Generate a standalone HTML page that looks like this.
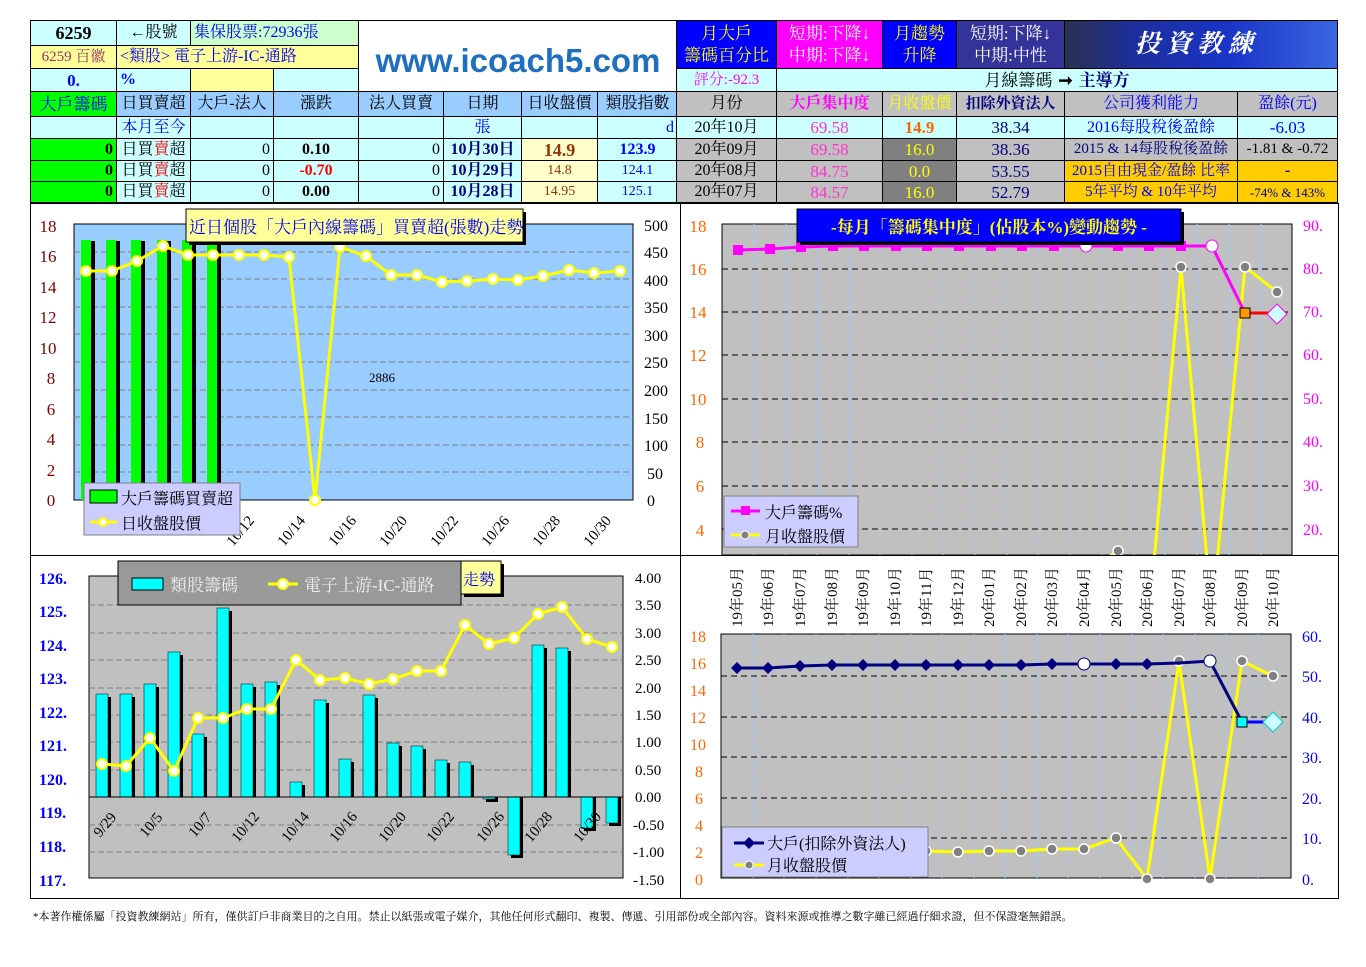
<!DOCTYPE html>
<html><head><meta charset="utf-8">
<style>
body{margin:0;width:1366px;height:967px;background:#fff;position:relative;overflow:hidden;font-family:"Liberation Serif","Noto Serif CJK SC",serif;}
.c{position:absolute;box-sizing:border-box;border:1px solid #000;display:flex;align-items:center;justify-content:center;overflow:hidden;white-space:nowrap;font-size:16px;line-height:1;}
.r{justify-content:flex-end;padding-right:3px}
.l{justify-content:flex-start;padding-left:3px}
.cy{background:#ccffff}.yl{background:#ffff99}.lb{background:#99ccff}.gr{background:#c0c0c0}.gn{background:#00ff00}.or{background:#ffcc00}.dg{background:#808080}
svg{position:absolute;left:0;top:0}
</style></head><body>
<svg width="1366" height="967" xmlns="http://www.w3.org/2000/svg" font-family="Liberation Serif, Noto Serif CJK SC, serif">
<defs>
<clipPath id="c2"><rect x="722" y="224" width="570" height="331"/></clipPath>
</defs>
<!-- chart boxes -->
<rect x="30.5" y="203.5" width="650" height="352" fill="#fff" stroke="#000"/>
<rect x="680.5" y="203.5" width="658" height="352" fill="#fff" stroke="#000"/>
<rect x="30.5" y="555.5" width="650" height="343" fill="#fff" stroke="#000"/>
<rect x="680.5" y="555.5" width="658" height="343" fill="#fff" stroke="#000"/>

<!-- CHART 1 -->
<rect x="74" y="224" width="559" height="276" fill="#99ccff" stroke="#000"/>
<g stroke="#808080" stroke-dasharray="6,3">
<line x1="74" y1="252" x2="633" y2="252"/><line x1="74" y1="279" x2="633" y2="279"/><line x1="74" y1="307" x2="633" y2="307"/><line x1="74" y1="334" x2="633" y2="334"/><line x1="74" y1="362" x2="633" y2="362"/><line x1="74" y1="390" x2="633" y2="390"/><line x1="74" y1="417" x2="633" y2="417"/><line x1="74" y1="445" x2="633" y2="445"/><line x1="74" y1="472" x2="633" y2="472"/>
</g>
<g fill="#000"><rect x="84" y="241" width="11" height="259"/><rect x="109" y="241" width="11" height="259"/><rect x="134" y="241" width="11" height="259"/><rect x="160" y="241" width="11" height="259"/><rect x="185" y="241" width="11" height="259"/><rect x="210" y="241" width="11" height="259"/></g>
<g fill="#00ff00"><rect x="81" y="240" width="10" height="260"/><rect x="106" y="240" width="10" height="260"/><rect x="131" y="240" width="10" height="260"/><rect x="157" y="240" width="10" height="260"/><rect x="182" y="240" width="10" height="260"/><rect x="207" y="240" width="10" height="260"/></g>
<polyline fill="none" stroke="#ffff00" stroke-width="3" points="86,271 112,271 137,261 163,246 188,255 213,255 239,255 264,255 289,257 315,500 340,247 366,256 391,275 417,275 442,282 467,281 493,279 518,280 543,276 569,270 594,273 620,271"/>
<g fill="#fff" stroke="#ffff00" stroke-width="2">
<circle cx="86" cy="271" r="5"/><circle cx="112" cy="271" r="5"/><circle cx="137" cy="261" r="5"/><circle cx="163" cy="246" r="5"/><circle cx="188" cy="255" r="5"/><circle cx="213" cy="255" r="5"/><circle cx="239" cy="255" r="5"/><circle cx="264" cy="255" r="5"/><circle cx="289" cy="257" r="5"/><circle cx="315" cy="500" r="5"/><circle cx="340" cy="247" r="5"/><circle cx="366" cy="256" r="5"/><circle cx="391" cy="275" r="5"/><circle cx="417" cy="275" r="5"/><circle cx="442" cy="282" r="5"/><circle cx="467" cy="281" r="5"/><circle cx="493" cy="279" r="5"/><circle cx="518" cy="280" r="5"/><circle cx="543" cy="276" r="5"/><circle cx="569" cy="270" r="5"/><circle cx="594" cy="273" r="5"/><circle cx="620" cy="271" r="5"/>
</g>
<text x="369" y="382" font-size="13" fill="#000">2886</text>
<g fill="#800000" font-size="17" text-anchor="middle">
<text x="48" y="232">18</text><text x="48" y="262">16</text><text x="48" y="293">14</text><text x="48" y="323">12</text><text x="48" y="354">10</text><text x="51" y="384">8</text><text x="51" y="415">6</text><text x="51" y="445">4</text><text x="51" y="476">2</text><text x="51" y="506">0</text>
</g>
<g fill="#000" font-size="16">
<text x="644" y="231">500</text><text x="644" y="258">450</text><text x="644" y="286">400</text><text x="644" y="313">350</text><text x="644" y="341">300</text><text x="644" y="368">250</text><text x="644" y="396">200</text><text x="644" y="424">150</text><text x="644" y="451">100</text><text x="647" y="479">50</text><text x="647" y="506">0</text>
</g>
<g fill="#000" font-size="15">
<text transform="translate(233,547) rotate(-50)">10/12</text><text transform="translate(284,547) rotate(-50)">10/14</text><text transform="translate(335,547) rotate(-50)">10/16</text><text transform="translate(386,547) rotate(-50)">10/20</text><text transform="translate(437,547) rotate(-50)">10/22</text><text transform="translate(488,547) rotate(-50)">10/26</text><text transform="translate(539,547) rotate(-50)">10/28</text><text transform="translate(590,547) rotate(-50)">10/30</text>
</g>
<rect x="189" y="212" width="337" height="33" fill="#000"/>
<rect x="186" y="209" width="337" height="33" fill="#ffff99" stroke="#000"/>
<text x="189" y="233" font-size="17" fill="#0000ff">近日個股「大戶內線籌碼」買賣超(張數)走勢</text>
<rect x="84" y="483" width="156" height="52" fill="#ccccff" stroke="#808080"/>
<rect x="90" y="490" width="27" height="13" fill="#00ff00" stroke="#000"/>
<text x="121" y="504" font-size="16" fill="#000">大戶籌碼買賣超</text>
<line x1="90" y1="522" x2="117" y2="522" stroke="#ffff00" stroke-width="3"/><circle cx="103" cy="522" r="4" fill="#fff" stroke="#ffff00" stroke-width="2"/>
<text x="121" y="529" font-size="16" fill="#000">日收盤股價</text>

<!-- CHART 2 -->
<rect x="722" y="224" width="570" height="331" fill="#c0c0c0" stroke="#000"/>
<g stroke="#99ccff" stroke-dasharray="5,3">
<line x1="754" y1="224" x2="754" y2="555"/><line x1="786" y1="224" x2="786" y2="555"/><line x1="817" y1="224" x2="817" y2="555"/><line x1="849" y1="224" x2="849" y2="555"/><line x1="880" y1="224" x2="880" y2="555"/><line x1="912" y1="224" x2="912" y2="555"/><line x1="943" y1="224" x2="943" y2="555"/><line x1="975" y1="224" x2="975" y2="555"/><line x1="1007" y1="224" x2="1007" y2="555"/><line x1="1038" y1="224" x2="1038" y2="555"/><line x1="1070" y1="224" x2="1070" y2="555"/><line x1="1102" y1="224" x2="1102" y2="555"/><line x1="1134" y1="224" x2="1134" y2="555"/><line x1="1165" y1="224" x2="1165" y2="555"/><line x1="1197" y1="224" x2="1197" y2="555"/><line x1="1229" y1="224" x2="1229" y2="555"/><line x1="1261" y1="224" x2="1261" y2="555"/>
</g>
<g stroke="#000" stroke-dasharray="6,4">
<line x1="722" y1="269" x2="1292" y2="269"/><line x1="722" y1="312" x2="1292" y2="312"/><line x1="722" y1="355" x2="1292" y2="355"/><line x1="722" y1="399" x2="1292" y2="399"/><line x1="722" y1="442" x2="1292" y2="442"/><line x1="722" y1="486" x2="1292" y2="486"/><line x1="722" y1="529" x2="1292" y2="529"/>
</g>
<g clip-path="url(#c2)">
<polyline fill="none" stroke="#ffff00" stroke-width="3" points="1086,572 1118,551 1149,616 1181,267 1212,616 1245,267 1277,292"/>
<g fill="#808080" stroke="#fff" stroke-width="1.5"><circle cx="1118" cy="551" r="5"/><circle cx="1181" cy="267" r="5"/><circle cx="1245" cy="267" r="5"/><circle cx="1277" cy="292" r="5"/></g>
</g>
<polyline fill="none" stroke="#ff00ff" stroke-width="3" points="738,250 770,249 801,247 833,246 864,246 896,246 927,246 959,246 991,246 1022,246 1054,246 1086,246 1118,246 1149,246 1181,246 1212,246 1245,313"/>
<line x1="1245" y1="313" x2="1277" y2="313" stroke="#ff0000" stroke-width="3"/>
<g fill="#ff00ff"><rect x="733" y="245" width="10" height="10"/><rect x="765" y="244" width="10" height="10"/><rect x="796" y="242" width="10" height="10"/><rect x="828" y="241" width="10" height="10"/><rect x="859" y="241" width="10" height="10"/><rect x="891" y="241" width="10" height="10"/><rect x="922" y="241" width="10" height="10"/><rect x="954" y="241" width="10" height="10"/><rect x="986" y="241" width="10" height="10"/><rect x="1017" y="241" width="10" height="10"/><rect x="1049" y="241" width="10" height="10"/><rect x="1113" y="241" width="10" height="10"/><rect x="1144" y="241" width="10" height="10"/><rect x="1176" y="241" width="10" height="10"/></g>
<circle cx="1086" cy="246" r="6" fill="#fff" stroke="#ff00ff"/><circle cx="1212" cy="246" r="6" fill="#fff" stroke="#ff00ff"/>
<rect x="1240" y="308" width="10" height="10" fill="#ff9900" stroke="#000"/>
<polygon points="1277,304 1287,314 1277,324 1267,314" fill="#ccffff" stroke="#ff00ff"/>
<g fill="#ff6600" font-size="17" text-anchor="middle">
<text x="698" y="232">18</text><text x="698" y="275">16</text><text x="698" y="318">14</text><text x="698" y="361">12</text><text x="698" y="405">10</text><text x="700" y="448">8</text><text x="700" y="492">6</text><text x="700" y="536">4</text>
</g>
<g fill="#ff00ff" font-size="16">
<text x="1303" y="231">90.</text><text x="1303" y="274">80.</text><text x="1303" y="317">70.</text><text x="1303" y="360">60.</text><text x="1303" y="404">50.</text><text x="1303" y="447">40.</text><text x="1303" y="491">30.</text><text x="1303" y="535">20.</text>
</g>
<rect x="800" y="212" width="384" height="33" fill="#000"/>
<rect x="797" y="209" width="384" height="33" fill="#0000ff" stroke="#000"/>
<text x="989" y="233" font-size="17" font-weight="bold" fill="#ffff00" text-anchor="middle">-每月「籌碼集中度」(佔股本%)變動趨勢 -</text>
<rect x="724" y="496" width="134" height="51" fill="#ccccff" stroke="#808080"/>
<line x1="731" y1="511" x2="760" y2="511" stroke="#ff00ff" stroke-width="3"/><rect x="741" y="506" width="9" height="9" fill="#ff00ff"/>
<text x="765" y="518" font-size="16" fill="#000">大戶籌碼%</text>
<line x1="731" y1="535" x2="760" y2="535" stroke="#ffff00" stroke-width="3"/><circle cx="745" cy="535" r="4" fill="#808080" stroke="#fff"/>
<text x="765" y="542" font-size="16" fill="#000">月收盤股價</text>

<!-- CHART 3 -->
<rect x="89" y="576" width="534" height="302" fill="#c0c0c0" stroke="#000"/>
<g stroke="#808080" stroke-dasharray="6,3">
<line x1="89" y1="605" x2="623" y2="605"/><line x1="89" y1="633" x2="623" y2="633"/><line x1="89" y1="660" x2="623" y2="660"/><line x1="89" y1="688" x2="623" y2="688"/><line x1="89" y1="715" x2="623" y2="715"/><line x1="89" y1="742" x2="623" y2="742"/><line x1="89" y1="770" x2="623" y2="770"/><line x1="89" y1="825" x2="623" y2="825"/><line x1="89" y1="852" x2="623" y2="852"/>
</g>
<g fill="#000">
<rect x="99" y="697" width="12" height="100"/><rect x="123" y="697" width="12" height="100"/><rect x="147" y="687" width="12" height="110"/><rect x="171" y="655" width="12" height="142"/><rect x="195" y="737" width="12" height="60"/><rect x="220" y="611" width="12" height="186"/><rect x="244" y="687" width="12" height="110"/><rect x="268" y="685" width="12" height="112"/><rect x="293" y="785" width="12" height="12"/><rect x="317" y="703" width="12" height="94"/><rect x="342" y="762" width="12" height="35"/><rect x="366" y="698" width="12" height="99"/><rect x="390" y="746" width="12" height="51"/><rect x="414" y="749" width="12" height="48"/><rect x="438" y="763" width="12" height="34"/><rect x="462" y="765" width="12" height="32"/><rect x="486" y="797" width="12" height="5"/><rect x="511" y="797" width="12" height="61"/><rect x="535" y="648" width="12" height="149"/><rect x="559" y="651" width="12" height="146"/><rect x="584" y="797" width="12" height="34"/><rect x="609" y="797" width="12" height="29"/>
</g>
<g fill="#00ffff" stroke="#000" stroke-width="0.5">
<rect x="96" y="694" width="12" height="103"/><rect x="120" y="694" width="12" height="103"/><rect x="144" y="684" width="12" height="113"/><rect x="168" y="652" width="12" height="145"/><rect x="192" y="734" width="12" height="63"/><rect x="217" y="608" width="12" height="189"/><rect x="241" y="684" width="12" height="113"/><rect x="265" y="682" width="12" height="115"/><rect x="290" y="782" width="12" height="15"/><rect x="314" y="700" width="12" height="97"/><rect x="339" y="759" width="12" height="38"/><rect x="363" y="695" width="12" height="102"/><rect x="387" y="743" width="12" height="54"/><rect x="411" y="746" width="12" height="51"/><rect x="435" y="760" width="12" height="37"/><rect x="459" y="762" width="12" height="35"/><rect x="483" y="797" width="12" height="2"/><rect x="508" y="797" width="12" height="58"/><rect x="532" y="645" width="12" height="152"/><rect x="556" y="648" width="12" height="149"/><rect x="581" y="797" width="12" height="31"/><rect x="606" y="797" width="12" height="26"/>
</g>
<line x1="89" y1="797" x2="623" y2="797" stroke="#000"/>
<polyline fill="none" stroke="#ffff00" stroke-width="3" points="102,764 126,766 150,738 174,771 198,718 223,718 247,709 271,709 296,660 320,680 345,678 369,684 393,679 417,671 441,671 465,625 489,644 514,638 538,614 562,607 587,639 612,647"/>
<g fill="#fff" stroke="#ffff00" stroke-width="2">
<circle cx="102" cy="764" r="5"/><circle cx="126" cy="766" r="5"/><circle cx="150" cy="738" r="5"/><circle cx="174" cy="771" r="5"/><circle cx="198" cy="718" r="5"/><circle cx="223" cy="718" r="5"/><circle cx="247" cy="709" r="5"/><circle cx="271" cy="709" r="5"/><circle cx="296" cy="660" r="5"/><circle cx="320" cy="680" r="5"/><circle cx="345" cy="678" r="5"/><circle cx="369" cy="684" r="5"/><circle cx="393" cy="679" r="5"/><circle cx="417" cy="671" r="5"/><circle cx="441" cy="671" r="5"/><circle cx="465" cy="625" r="5"/><circle cx="489" cy="644" r="5"/><circle cx="514" cy="638" r="5"/><circle cx="538" cy="614" r="5"/><circle cx="562" cy="607" r="5"/><circle cx="587" cy="639" r="5"/><circle cx="612" cy="647" r="5"/>
</g>
<g fill="#000" font-size="15">
<text transform="translate(100,838) rotate(-50)">9/29</text><text transform="translate(146,838) rotate(-50)">10/5</text><text transform="translate(195,838) rotate(-50)">10/7</text><text transform="translate(238,843) rotate(-50)">10/12</text><text transform="translate(288,843) rotate(-50)">10/14</text><text transform="translate(336,843) rotate(-50)">10/16</text><text transform="translate(385,843) rotate(-50)">10/20</text><text transform="translate(433,843) rotate(-50)">10/22</text><text transform="translate(483,843) rotate(-50)">10/26</text><text transform="translate(531,843) rotate(-50)">10/28</text><text transform="translate(580,843) rotate(-50)">10/30</text>
</g>
<g fill="#0000ff" font-size="16" font-weight="bold">
<text x="39" y="584">126.</text><text x="39" y="617">125.</text><text x="39" y="651">124.</text><text x="39" y="684">123.</text><text x="39" y="718">122.</text><text x="39" y="751">121.</text><text x="39" y="785">120.</text><text x="39" y="818">119.</text><text x="39" y="852">118.</text><text x="39" y="886">117.</text>
</g>
<g fill="#000" font-size="15">
<text x="635" y="583">4.00</text><text x="635" y="610">3.50</text><text x="635" y="638">3.00</text><text x="635" y="665">2.50</text><text x="635" y="693">2.00</text><text x="635" y="720">1.50</text><text x="635" y="747">1.00</text><text x="635" y="775">0.50</text><text x="635" y="802">0.00</text><text x="633" y="830">-0.50</text><text x="633" y="857">-1.00</text><text x="633" y="885">-1.50</text>
</g>
<rect x="464" y="564" width="40" height="33" fill="#000"/>
<rect x="461" y="561" width="40" height="33" fill="#ffff99" stroke="#000"/>
<text x="463" y="585" font-size="16" fill="#0000ff">走勢</text>
<rect x="118" y="561" width="343" height="44" fill="#999999" stroke="#000"/>
<rect x="132" y="578" width="31" height="12" fill="#00ffff" stroke="#000"/>
<text x="170" y="591" font-size="17" fill="#eeeeee">類股籌碼</text>
<line x1="268" y1="584" x2="298" y2="584" stroke="#ffff00" stroke-width="3"/><circle cx="283" cy="584" r="5" fill="#fff" stroke="#ffff00" stroke-width="2"/>
<text x="304" y="591" font-size="17" fill="#eeeeee">電子上游-IC-通路</text>

<!-- CHART 4 -->
<rect x="721" y="634" width="570" height="244" fill="#c0c0c0" stroke="#000"/>
<g stroke="#99ccff" stroke-dasharray="5,3">
<line x1="753" y1="634" x2="753" y2="878"/><line x1="784" y1="634" x2="784" y2="878"/><line x1="816" y1="634" x2="816" y2="878"/><line x1="848" y1="634" x2="848" y2="878"/><line x1="879" y1="634" x2="879" y2="878"/><line x1="911" y1="634" x2="911" y2="878"/><line x1="942" y1="634" x2="942" y2="878"/><line x1="974" y1="634" x2="974" y2="878"/><line x1="1005" y1="634" x2="1005" y2="878"/><line x1="1037" y1="634" x2="1037" y2="878"/><line x1="1068" y1="634" x2="1068" y2="878"/><line x1="1100" y1="634" x2="1100" y2="878"/><line x1="1132" y1="634" x2="1132" y2="878"/><line x1="1163" y1="634" x2="1163" y2="878"/><line x1="1195" y1="634" x2="1195" y2="878"/><line x1="1226" y1="634" x2="1226" y2="878"/><line x1="1258" y1="634" x2="1258" y2="878"/>
</g>
<g stroke="#000" stroke-dasharray="6,4">
<line x1="721" y1="676" x2="1291" y2="676"/><line x1="721" y1="717" x2="1291" y2="717"/><line x1="721" y1="757" x2="1291" y2="757"/><line x1="721" y1="798" x2="1291" y2="798"/><line x1="721" y1="838" x2="1291" y2="838"/>
</g>
<polyline fill="none" stroke="#ffff00" stroke-width="3" points="737,851 768,851 800,851 832,851 863,851 895,851 926,851 958,852 989,851 1021,851 1052,849 1084,849 1116,838 1147,879 1179,661 1210,879 1242,661 1273,676"/>
<g fill="#808080" stroke="#fff" stroke-width="1.5">
<circle cx="926" cy="851" r="5"/><circle cx="958" cy="852" r="5"/><circle cx="989" cy="851" r="5"/><circle cx="1021" cy="851" r="5"/><circle cx="1052" cy="849" r="5"/><circle cx="1084" cy="849" r="5"/><circle cx="1116" cy="838" r="5"/><circle cx="1147" cy="879" r="5"/><circle cx="1179" cy="661" r="5"/><circle cx="1210" cy="879" r="5"/><circle cx="1242" cy="661" r="5"/><circle cx="1273" cy="676" r="5"/>
</g>
<polyline fill="none" stroke="#000080" stroke-width="3" points="737,668 768,668 800,666 832,665 863,665 895,665 926,665 958,665 989,665 1021,665 1052,664 1084,664 1116,664 1147,664 1179,663 1210,661 1242,722"/>
<line x1="1242" y1="722" x2="1273" y2="722" stroke="#0000ff" stroke-width="3"/>
<g fill="#000080">
<polygon points="737,662 743,668 737,674 731,668"/><polygon points="768,662 774,668 768,674 762,668"/><polygon points="800,660 806,666 800,672 794,666"/><polygon points="832,659 838,665 832,671 826,665"/><polygon points="863,659 869,665 863,671 857,665"/><polygon points="895,659 901,665 895,671 889,665"/><polygon points="926,659 932,665 926,671 920,665"/><polygon points="958,659 964,665 958,671 952,665"/><polygon points="989,659 995,665 989,671 983,665"/><polygon points="1021,659 1027,665 1021,671 1015,665"/><polygon points="1052,658 1058,664 1052,670 1046,664"/><polygon points="1116,658 1122,664 1116,670 1110,664"/><polygon points="1147,658 1153,664 1147,670 1141,664"/>
</g>
<circle cx="1084" cy="664" r="6" fill="#fff" stroke="#000080"/><circle cx="1210" cy="661" r="6" fill="#fff" stroke="#000080"/>
<rect x="1237" y="717" width="10" height="10" fill="#00ffff" stroke="#000"/>
<polygon points="1273,712 1283,722 1273,732 1263,722" fill="#ccffff" stroke="#00cccc"/>
<g fill="#ff6600" font-size="16" text-anchor="middle">
<text x="698" y="642">18</text><text x="698" y="669">16</text><text x="698" y="696">14</text><text x="698" y="723">12</text><text x="698" y="750">10</text><text x="699" y="777">8</text><text x="699" y="804">6</text><text x="699" y="831">4</text><text x="699" y="858">2</text><text x="699" y="885">0</text>
</g>
<g fill="#0000ff" font-size="16">
<text x="1302" y="642">60.</text><text x="1302" y="682">50.</text><text x="1302" y="723">40.</text><text x="1302" y="763">30.</text><text x="1302" y="804">20.</text><text x="1302" y="844">10.</text><text x="1302" y="885">0.</text>
</g>
<g fill="#000" font-size="15">
<text transform="translate(742,627) rotate(-90)">19年05月</text><text transform="translate(773,627) rotate(-90)">19年06月</text><text transform="translate(805,627) rotate(-90)">19年07月</text><text transform="translate(837,627) rotate(-90)">19年08月</text><text transform="translate(868,627) rotate(-90)">19年09月</text><text transform="translate(900,627) rotate(-90)">19年10月</text><text transform="translate(931,627) rotate(-90)">19年11月</text><text transform="translate(963,627) rotate(-90)">19年12月</text><text transform="translate(994,627) rotate(-90)">20年01月</text><text transform="translate(1026,627) rotate(-90)">20年02月</text><text transform="translate(1057,627) rotate(-90)">20年03月</text><text transform="translate(1089,627) rotate(-90)">20年04月</text><text transform="translate(1121,627) rotate(-90)">20年05月</text><text transform="translate(1152,627) rotate(-90)">20年06月</text><text transform="translate(1184,627) rotate(-90)">20年07月</text><text transform="translate(1215,627) rotate(-90)">20年08月</text><text transform="translate(1247,627) rotate(-90)">20年09月</text><text transform="translate(1278,627) rotate(-90)">20年10月</text>
</g>
<rect x="722" y="827" width="206" height="50" fill="#ccccff" stroke="#808080"/>
<line x1="734" y1="843" x2="764" y2="843" stroke="#000080" stroke-width="3"/><polygon points="749,837 755,843 749,849 743,843" fill="#000080"/>
<text x="767" y="849" font-size="16" fill="#000">大戶(扣除外資法人)</text>
<line x1="734" y1="865" x2="764" y2="865" stroke="#ffff00" stroke-width="3"/><circle cx="749" cy="865" r="4" fill="#808080" stroke="#fff"/>
<text x="767" y="871" font-size="16" fill="#000">月收盤股價</text>

<text x="33" y="920" font-size="11" fill="#000">*本著作權係屬「投資教練網站」所有，僅供訂戶非商業目的之自用。禁止以紙張或電子媒介，其他任何形式翻印、複製、傳遞、引用部份或全部內容。資料來源或推導之數字雖已經過仔細求證，但不保證毫無錯誤。</text>
</svg>

<!-- LEFT TABLE -->
<div class="c cy" style="left:30px;top:20px;width:87px;height:26px;font-weight:bold;font-size:18px">6259</div>
<div class="c cy" style="left:116px;top:20px;width:75px;height:26px">←股號</div>
<div class="c l" style="left:190px;top:20px;width:169px;height:26px;background:#ccffcc;color:#0000ff">集保股票:72936張</div>
<div class="c" style="left:358px;top:20px;width:320px;height:72px;background:#fff;font-family:'Liberation Sans',sans-serif;font-weight:bold;font-size:33px;color:#1f6fc0;padding-top:8px">www.icoach5.com</div>
<div class="c yl" style="left:30px;top:45px;width:87px;height:24px;color:#993366;font-size:15px">6259 百徽</div>
<div class="c yl l" style="left:116px;top:45px;width:243px;height:24px;color:#0000ff">&lt;類股&gt; 電子上游-IC-通路</div>
<div class="c cy" style="left:30px;top:68px;width:87px;height:24px;color:#0000ff;font-weight:bold;font-size:17px">0.</div>
<div class="c cy l" style="left:116px;top:68px;width:75px;height:24px;color:#0000ff;font-weight:bold">%</div>
<div class="c yl" style="left:190px;top:68px;width:84px;height:24px"></div>
<div class="c cy" style="left:273px;top:68px;width:86px;height:24px"></div>

<div class="c gn" style="left:30px;top:91px;width:87px;height:26px;color:#0000ff;font-size:17px">大戶籌碼</div>
<div class="c lb" style="left:116px;top:91px;width:75px;height:26px">日買賣超</div>
<div class="c lb" style="left:190px;top:91px;width:84px;height:26px">大戶-法人</div>
<div class="c lb" style="left:273px;top:91px;width:86px;height:26px">漲跌</div>
<div class="c lb" style="left:358px;top:91px;width:86px;height:26px">法人買賣</div>
<div class="c lb" style="left:443px;top:91px;width:79px;height:26px">日期</div>
<div class="c lb" style="left:521px;top:91px;width:77px;height:26px">日收盤價</div>
<div class="c lb" style="left:597px;top:91px;width:81px;height:26px">類股指數</div>

<div class="c cy" style="left:30px;top:116px;width:87px;height:23px"></div>
<div class="c cy" style="left:116px;top:116px;width:75px;height:23px;color:#0000ff">本月至今</div>
<div class="c cy" style="left:190px;top:116px;width:84px;height:23px"></div>
<div class="c cy" style="left:273px;top:116px;width:86px;height:23px"></div>
<div class="c cy" style="left:358px;top:116px;width:86px;height:23px"></div>
<div class="c cy" style="left:443px;top:116px;width:79px;height:23px;color:#0000ff">張</div>
<div class="c cy" style="left:521px;top:116px;width:77px;height:23px"></div>
<div class="c cy r" style="left:597px;top:116px;width:81px;height:23px;color:#0000ff">d</div>

<div class="c gn r" style="left:30px;top:138px;width:87px;height:23px;font-weight:bold">0</div>
<div class="c cy" style="left:116px;top:138px;width:75px;height:23px">日買<span style="color:#f00">賣</span>超</div>
<div class="c cy r" style="left:190px;top:138px;width:84px;height:23px">0</div>
<div class="c cy" style="left:273px;top:138px;width:86px;height:23px;font-weight:bold">0.10</div>
<div class="c cy r" style="left:358px;top:138px;width:86px;height:23px">0</div>
<div class="c cy" style="left:443px;top:138px;width:79px;height:23px;color:#000080;font-weight:bold">10月30日</div>
<div class="c yl" style="left:521px;top:138px;width:77px;height:23px;color:#993300;font-weight:bold;font-size:18px;background:#ffffcc">14.9</div>
<div class="c cy" style="left:597px;top:138px;width:81px;height:23px;color:#0000ff;font-weight:bold">123.9</div>

<div class="c gn r" style="left:30px;top:160px;width:87px;height:22px;font-weight:bold">0</div>
<div class="c cy" style="left:116px;top:160px;width:75px;height:22px">日買<span style="color:#f00">賣</span>超</div>
<div class="c cy r" style="left:190px;top:160px;width:84px;height:22px">0</div>
<div class="c cy" style="left:273px;top:160px;width:86px;height:22px;font-weight:bold;color:#f00">-0.70</div>
<div class="c cy r" style="left:358px;top:160px;width:86px;height:22px">0</div>
<div class="c cy" style="left:443px;top:160px;width:79px;height:22px;color:#000080;font-weight:bold">10月29日</div>
<div class="c" style="left:521px;top:160px;width:77px;height:22px;color:#993300;background:#ffffcc;font-size:14px">14.8</div>
<div class="c cy" style="left:597px;top:160px;width:81px;height:22px;color:#0000ff;font-size:14px">124.1</div>

<div class="c gn r" style="left:30px;top:181px;width:87px;height:22px;font-weight:bold">0</div>
<div class="c cy" style="left:116px;top:181px;width:75px;height:22px">日買<span style="color:#f00">賣</span>超</div>
<div class="c cy r" style="left:190px;top:181px;width:84px;height:22px">0</div>
<div class="c cy" style="left:273px;top:181px;width:86px;height:22px;font-weight:bold">0.00</div>
<div class="c cy r" style="left:358px;top:181px;width:86px;height:22px">0</div>
<div class="c cy" style="left:443px;top:181px;width:79px;height:22px;color:#000080;font-weight:bold">10月28日</div>
<div class="c" style="left:521px;top:181px;width:77px;height:22px;color:#993300;background:#ffffcc;font-size:14px">14.95</div>
<div class="c cy" style="left:597px;top:181px;width:81px;height:22px;color:#0000ff;font-size:14px">125.1</div>

<!-- RIGHT TABLE -->
<div class="c" style="left:676px;top:20px;width:101px;height:49px;background:#0000ff;color:#ffff00;flex-direction:column;font-size:17px;gap:5px"><span>月大戶</span><span>籌碼百分比</span></div>
<div class="c" style="left:776px;top:20px;width:107px;height:49px;background:#ff00ff;color:#fff;flex-direction:column;font-size:17px;gap:5px"><span>短期:下降↓</span><span>中期:下降↓</span></div>
<div class="c" style="left:882px;top:20px;width:75px;height:49px;background:#0000ff;color:#ffff00;flex-direction:column;font-size:17px;gap:5px"><span>月趨勢</span><span>升降</span></div>
<div class="c" style="left:956px;top:20px;width:109px;height:49px;background:#333399;color:#fff;flex-direction:column;font-size:17px;gap:5px"><span>短期:下降↓</span><span>中期:中性</span></div>
<div class="c" style="left:1064px;top:20px;width:274px;height:49px;background:linear-gradient(90deg,#2a3050 0%,#1c2f9a 25%,#1a34c8 60%,#3a66e0 100%);color:#fff;font-size:25px;font-style:italic;font-weight:bold;letter-spacing:6px;justify-content:flex-start;padding-left:70px">投資教練</div>
<div class="c cy" style="left:676px;top:68px;width:101px;height:24px;color:#ff00ff;font-size:15px">評分:-92.3</div>
<div class="c cy" style="left:776px;top:68px;width:562px;height:24px;font-size:17px">月線籌碼<b style="margin:0 6px">➞</b><b style="color:#000080">主導方</b></div>

<div class="c gr" style="left:676px;top:91px;width:101px;height:26px">月份</div>
<div class="c gr" style="left:776px;top:91px;width:107px;height:26px;color:#ff00ff;font-weight:bold">大戶集中度</div>
<div class="c gr" style="left:882px;top:91px;width:75px;height:26px;color:#ffff00">月收盤價</div>
<div class="c gr" style="left:956px;top:91px;width:109px;height:26px;color:#000080;font-weight:bold;font-size:15px">扣除外資法人</div>
<div class="c gr" style="left:1064px;top:91px;width:174px;height:26px;color:#0000ff">公司獲利能力</div>
<div class="c gr" style="left:1237px;top:91px;width:101px;height:26px;color:#0000ff">盈餘(元)</div>

<div class="c cy" style="left:676px;top:116px;width:101px;height:23px">20年10月</div>
<div class="c cy" style="left:776px;top:116px;width:107px;height:23px;color:#ff33cc;font-size:17px">69.58</div>
<div class="c cy" style="left:882px;top:116px;width:75px;height:23px;color:#ff6600;font-weight:bold;font-size:17px">14.9</div>
<div class="c cy" style="left:956px;top:116px;width:109px;height:23px;color:#000080;font-size:17px">38.34</div>
<div class="c cy" style="left:1064px;top:116px;width:174px;height:23px;color:#0000ff">2016每股稅後盈餘</div>
<div class="c cy" style="left:1237px;top:116px;width:101px;height:23px;color:#0000ff;font-size:17px">-6.03</div>

<div class="c gr" style="left:676px;top:138px;width:101px;height:23px">20年09月</div>
<div class="c gr" style="left:776px;top:138px;width:107px;height:23px;color:#ff33cc;font-size:17px">69.58</div>
<div class="c dg" style="left:882px;top:138px;width:75px;height:23px;color:#ffff00;font-size:17px">16.0</div>
<div class="c gr" style="left:956px;top:138px;width:109px;height:23px;color:#000080;font-size:17px">38.36</div>
<div class="c gr" style="left:1064px;top:138px;width:174px;height:23px;color:#000080;font-size:15px">2015 &amp; 14每股稅後盈餘</div>
<div class="c gr" style="left:1237px;top:138px;width:101px;height:23px;font-size:15px">-1.81 &amp; -0.72</div>

<div class="c gr" style="left:676px;top:160px;width:101px;height:22px">20年08月</div>
<div class="c gr" style="left:776px;top:160px;width:107px;height:22px;color:#ff33cc;font-size:17px">84.75</div>
<div class="c dg" style="left:882px;top:160px;width:75px;height:22px;color:#ffff00;font-size:17px">0.0</div>
<div class="c gr" style="left:956px;top:160px;width:109px;height:22px;color:#000080;font-size:17px">53.55</div>
<div class="c or" style="left:1064px;top:160px;width:174px;height:22px;color:#0000ff;font-size:15px">2015自由現金/盈餘 比率</div>
<div class="c or" style="left:1237px;top:160px;width:101px;height:22px;color:#0000ff;font-weight:bold">-</div>

<div class="c gr" style="left:676px;top:181px;width:101px;height:22px">20年07月</div>
<div class="c gr" style="left:776px;top:181px;width:107px;height:22px;color:#ff33cc;font-size:17px">84.57</div>
<div class="c dg" style="left:882px;top:181px;width:75px;height:22px;color:#ffff00;font-size:17px">16.0</div>
<div class="c gr" style="left:956px;top:181px;width:109px;height:22px;color:#000080;font-size:17px">52.79</div>
<div class="c or" style="left:1064px;top:181px;width:174px;height:22px;color:#0000ff;font-size:15px">5年平均 &amp; 10年平均</div>
<div class="c or" style="left:1237px;top:181px;width:101px;height:22px;color:#000080;font-size:13px">-74% &amp; 143%</div>
</body></html>
